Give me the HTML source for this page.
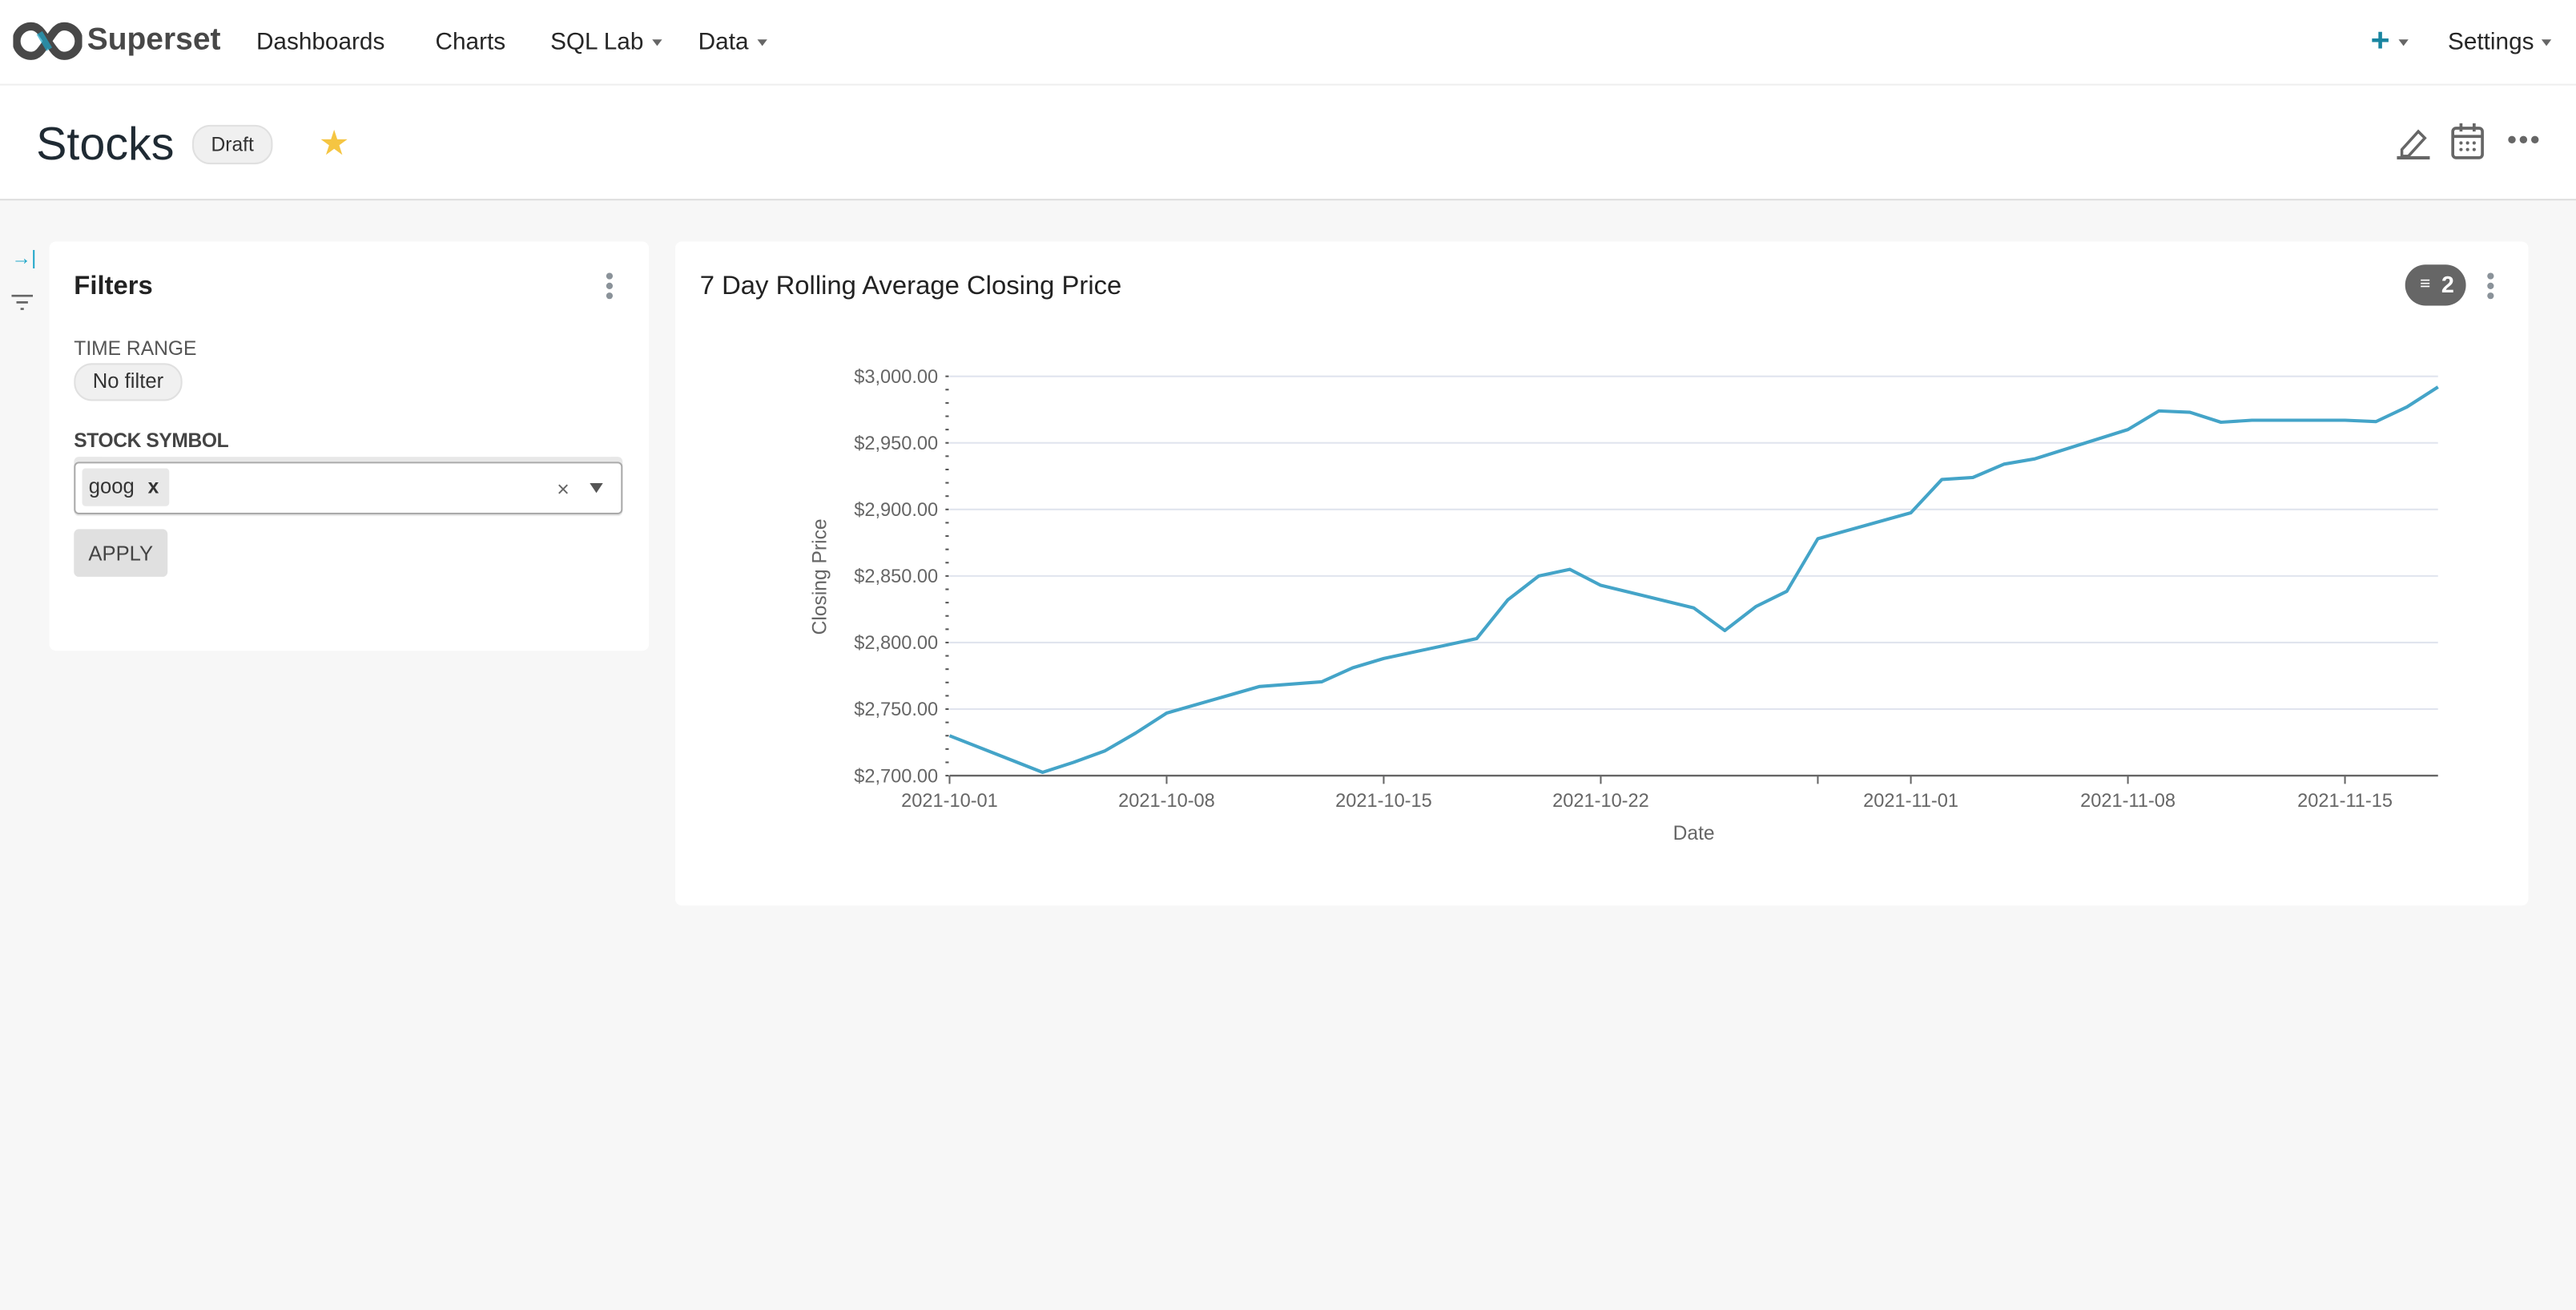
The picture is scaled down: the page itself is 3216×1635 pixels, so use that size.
<!DOCTYPE html>
<html><head><meta charset="utf-8"><style>
html,body{margin:0;padding:0;width:3216px;height:1634px;overflow:hidden;background:#f7f7f7;}
#root{position:absolute;left:0;top:0;width:1568px;height:797px;transform:scale(2.05102);transform-origin:0 0;font-family:"Liberation Sans",sans-serif;color:#323232;background:#f7f7f7;}
.abs{position:absolute;}
.nav{left:0;top:0;width:1568px;height:51px;background:#fff;border-bottom:1px solid #eee;}
.nav span{position:absolute;top:18px;font-size:14.5px;color:#262626;}
.caret{display:inline-block;width:0;height:0;border-left:3px solid transparent;border-right:3px solid transparent;border-top:4px solid #666;margin-left:5px;vertical-align:middle;}
.head{left:0;top:52px;width:1568px;height:69px;background:#fff;border-bottom:1px solid #ddd;}
.card{background:#fff;border-radius:4px;}
</style></head><body>
<div id="root">
<div class="abs nav">
  <svg class="abs" style="left:8px;top:13px" width="42" height="24" viewBox="0 0 42 24">
    <path d="M11 3a9 9 0 1 0 0 18c4 0 6-3 10-9s6-9 10-9a9 9 0 1 1 0 18c-4 0-6-3-10-9S15 3 11 3z" fill="none" stroke="#484848" stroke-width="5"/>
    <path d="M16 7l6 10" stroke="#20a7c9" stroke-width="4" opacity="0.7"/>
  </svg>
  <span style="left:53px;top:14px;font-size:19px;font-weight:bold;color:#484848">Superset</span>
  <span style="left:156px">Dashboards</span>
  <span style="left:265px">Charts</span>
  <span style="left:335px">SQL Lab<i class="caret"></i></span>
  <span style="left:425px">Data<i class="caret"></i></span>
  <span style="left:1443px;top:14px;font-size:20px;font-weight:bold;color:#1985a0">+<i class="caret"></i></span>
  <span style="left:1490px">Settings<i class="caret"></i></span>
</div>
<div class="abs head">
  <div class="abs" style="left:22px;top:20px;font-size:28px;color:#1f2a33">Stocks</div>
  <div class="abs" style="left:117px;top:24px;width:47px;height:22px;border:1px solid #e0e0e0;background:#f0f0f0;border-radius:11px;font-size:12px;text-align:center;line-height:22px">Draft</div>
  <div class="abs" style="left:194px;top:23px;font-size:21px;color:#f5c542">★</div>
  <svg class="abs" style="left:1458px;top:23px" width="22" height="24"><path d="M4 16l10-11 4 4-10 11H4z" fill="none" stroke="#666" stroke-width="1.7"/><line x1="1" y1="21" x2="21" y2="21" stroke="#666" stroke-width="2"/></svg>
  <svg class="abs" style="left:1491px;top:22px" width="22" height="24"><rect x="2" y="4" width="18" height="18" rx="2" fill="none" stroke="#666" stroke-width="1.8"/><line x1="2" y1="9" x2="20" y2="9" stroke="#666" stroke-width="1.8"/><line x1="7" y1="1" x2="7" y2="6" stroke="#666" stroke-width="1.8"/><line x1="15" y1="1" x2="15" y2="6" stroke="#666" stroke-width="1.8"/><g fill="#666"><circle cx="7" cy="13" r="1"/><circle cx="11" cy="13" r="1"/><circle cx="15" cy="13" r="1"/><circle cx="7" cy="17" r="1"/><circle cx="11" cy="17" r="1"/><circle cx="15" cy="17" r="1"/></g></svg>
  <svg class="abs" style="left:1526px;top:29px" width="22" height="8"><g fill="#666"><circle cx="3" cy="4" r="2.3"/><circle cx="10" cy="4" r="2.3"/><circle cx="17" cy="4" r="2.3"/></g></svg>
</div>
<div class="abs" style="left:7px;top:150px;color:#20a7c9;font-size:12px">→|</div>
<svg class="abs" style="left:7px;top:179px" width="14" height="12"><line x1="0" y1="1" x2="13" y2="1" stroke="#666" stroke-width="1.3"/><line x1="3" y1="5" x2="10" y2="5" stroke="#666" stroke-width="1.3"/><line x1="5.5" y1="9" x2="7.5" y2="9" stroke="#666" stroke-width="1.3"/></svg>

<div class="abs card" style="left:30px;top:147px;width:365px;height:249px">
  <div class="abs" style="left:15px;top:19px;font-size:16px;font-weight:bold;color:#222">Filters</div>
  <svg class="abs" style="left:338px;top:18px" width="6" height="18"><g fill="#8a9299"><circle cx="3" cy="3" r="2"/><circle cx="3" cy="9" r="2"/><circle cx="3" cy="15" r="2"/></g></svg>
  <div class="abs" style="left:15px;top:58px;font-size:12px;color:#555">TIME RANGE</div>
  <div class="abs" style="left:15px;top:74px;width:64px;height:21px;border:1px solid #e0e0e0;background:#f0f0f0;border-radius:11px;font-size:12.5px;text-align:center;line-height:21px;color:#333">No filter</div>
  <div class="abs" style="left:15px;top:114px;font-size:12px;color:#444;font-weight:bold;letter-spacing:-0.2px">STOCK SYMBOL</div>
  <div class="abs" style="left:15px;top:131px;width:334px;height:36px;background:#e8e8e8;border-radius:3px"></div>
  <div class="abs" style="left:15px;top:134px;width:332px;height:30px;background:#fff;border:1px solid #aaa;border-radius:3px">
    <div class="abs" style="left:4px;top:3px;width:53px;height:23px;background:#e8e8e8;border-radius:2px;font-size:12.5px;line-height:23px;color:#333"><span style="margin-left:4px">goog</span><b style="position:absolute;left:40px;font-size:12px">x</b></div>
    <div class="abs" style="left:293px;top:8px;font-size:13px;color:#666">×</div>
    <div class="abs" style="left:313px;top:12px;border-left:4px solid transparent;border-right:4px solid transparent;border-top:6px solid #555"></div>
  </div>
  <div class="abs" style="left:15px;top:175px;width:57px;height:29px;background:#e0e0e0;border-radius:3px;font-size:12.5px;text-align:center;line-height:31px;color:#444">APPLY</div>
</div>

<div class="abs card" style="left:411px;top:147px;width:1128px;height:404px">
  <div class="abs" style="left:15px;top:19px;font-size:16px;color:#222">7 Day Rolling Average Closing Price</div>
  <div class="abs" style="left:1053px;top:14px;width:37px;height:25px;background:#666;border-radius:13px;color:#fff;font-size:14px;font-weight:bold;line-height:25px"><span style="position:absolute;left:9px;top:0px;font-size:11px">≡</span><span style="position:absolute;left:22px">2</span></div>
  <svg class="abs" style="left:1102px;top:18px" width="6" height="18"><g fill="#8a9299"><circle cx="3" cy="3" r="2"/><circle cx="3" cy="9" r="2"/><circle cx="3" cy="15" r="2"/></g></svg>
</div>

<svg id="chart" class="abs" style="left:0;top:0" width="1568" height="797"></svg>
</div>
<script>
const dayOffsets=[0,3,4,5,6,7,10,12,13,14,17,18,19,20,21,24,25,26,27,28,31,32,33,34,35,38,39,40,41,42,43,44,45,46,47,48];
const closingPrices=[2730,2702.5,2710,2718.5,2732,2747,2767,2770.5,2781,2788,2803,2832,2850,2855,2843,2826,2809,2827,2838.5,2878,2897.5,2922.5,2924,2934,2938,2960,2974,2973,2965.5,2967,2967,2967,2967,2966,2977,2992];
const yTicks=[2700,2750,2800,2850,2900,2950,3000];
const yTickLabels=["$2,700.00","$2,750.00","$2,800.00","$2,850.00","$2,900.00","$2,950.00","$3,000.00"];
const xTickDays=[0,7,14,21,28,31,38,45];
const xTickLabels=["2021-10-01","2021-10-08","2021-10-15","2021-10-22","","2021-11-01","2021-11-08","2021-11-15"];

const NS="http://www.w3.org/2000/svg";
const svg=document.getElementById('chart');
const X0=578,X1=1484,Y0=472,Y1=229,DMAX=48;
const xs=d=>X0+(X1-X0)*d/DMAX;
const ys=v=>Y0-(Y0-Y1)*(v-2700)/300;
function mk(t,a,p){const e=document.createElementNS(NS,t);for(const k in a)e.setAttribute(k,a[k]);(p||svg).appendChild(e);return e;}
yTicks.forEach((v,i)=>{
  const g=mk('line',{x1:X0,x2:X1,y1:ys(v),y2:ys(v),stroke:'#e0e4ee','stroke-width':1});
  
  
  const t=mk('text',{x:X0-7,y:ys(v)+4,'text-anchor':'end','font-size':11.5,fill:'#666','font-family':'Liberation Sans, sans-serif'});
  t.textContent=yTickLabels[i];
  
  
});
for(let v=2700;v<=3000;v+=10){
  const m=mk('line',{x1:X0-2.5,x2:X0-0.5,y1:ys(v),y2:ys(v),stroke:'#555','stroke-width':1});
  
  
}
const ax=mk('line',{x1:X0,x2:X1,y1:Y0,y2:Y0,stroke:'#666','stroke-width':1.2});


xTickDays.forEach((d,i)=>{
  const tk=mk('line',{x1:xs(d),x2:xs(d),y1:Y0,y2:Y0+5,stroke:'#666','stroke-width':1});
  
  
  if(xTickLabels[i]){
    const t=mk('text',{x:xs(d),y:Y0+19,'text-anchor':'middle','font-size':11.5,fill:'#666','font-family':'Liberation Sans, sans-serif'});
    t.textContent=xTickLabels[i];
    
    
  }
});
const line=mk('polyline',{points:dayOffsets.map((d,i)=>xs(d)+','+ys(closingPrices[i])).join(' '),fill:'none',stroke:'#44a4c8','stroke-width':2,'stroke-linejoin':'round'});


const xt=mk('text',{x:1031,y:511,'text-anchor':'middle','font-size':12,fill:'#666','font-family':'Liberation Sans, sans-serif'});
xt.textContent='Date';


const yt=mk('text',{x:0,y:0,transform:'translate(503,351) rotate(-90)','text-anchor':'middle','font-size':12,fill:'#666','font-family':'Liberation Sans, sans-serif'});
yt.textContent='Closing Price';


</script>
</body></html>
